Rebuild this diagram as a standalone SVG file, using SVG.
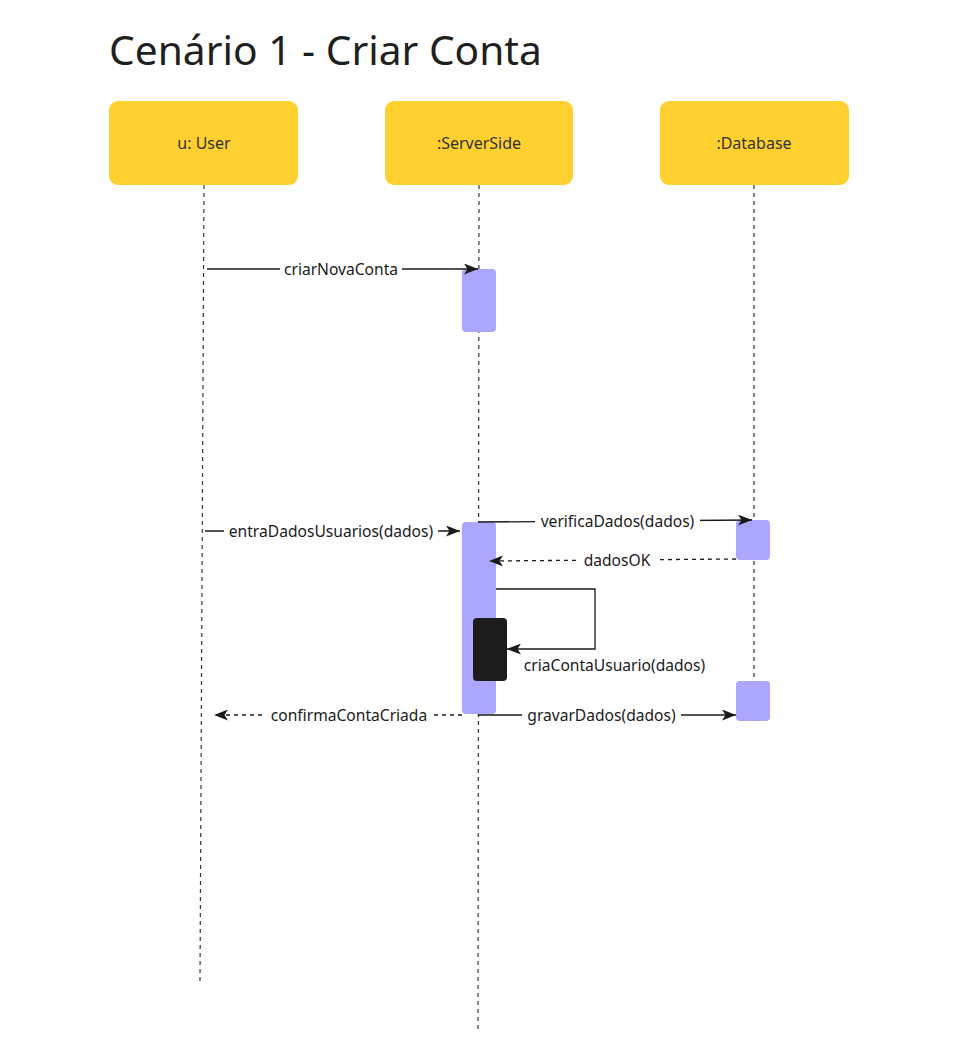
<svg xmlns="http://www.w3.org/2000/svg" width="956" height="1045" viewBox="0 0 956 1045">
<style>
.node{fill:#ffd02f}
.nl{font-family:"Noto Sans","Open Sans",sans-serif;font-size:16px;fill:#333;text-anchor:middle}
.life{stroke:#333;stroke-width:1.2;stroke-dasharray:4 4;fill:none}
.act{fill:#aba6ff}
.msg{stroke:#1a1a1a;stroke-width:1.3;fill:none}
.dash{stroke-dasharray:4 4}
.ml{font-family:"Noto Sans","Open Sans",sans-serif;font-size:15.6px;fill:#1a1a1a;text-anchor:middle}
.bg{fill:#fff}
</style>
<defs>
<marker id="ah" viewBox="0 0 14 11" refX="14" refY="5.5" markerWidth="14" markerHeight="11" markerUnits="userSpaceOnUse" orient="auto">
<path d="M0,0 L14,5.5 L0,11 L3.5,5.5 Z" fill="#1a1a1a"/>
</marker>
</defs>
<rect width="956" height="1045" fill="#fff"/>
<text x="109" y="65" font-family="Noto Sans, Open Sans, sans-serif" font-size="40.7" fill="#1f1f1f">Cenário 1 - Criar Conta</text>
<g id="lifelines">
<line class="life" x1="204" y1="185" x2="200" y2="982"/>
<line class="life" x1="479" y1="185" x2="478" y2="1030"/>
<line class="life" x1="754" y1="185" x2="754" y2="681"/>
</g>
<g id="user"><rect class="node" x="109" y="101" width="189" height="84" rx="9"/><text class="nl" x="204" y="149">u: User</text></g>
<g id="server"><rect class="node" x="385" y="101" width="188" height="84" rx="9"/><text class="nl" x="479" y="149">:ServerSide</text></g>
<g id="database"><rect class="node" x="660" y="101" width="189" height="84" rx="9"/><text class="nl" x="754" y="149">:Database</text></g>
<g id="activations">
<rect class="act" x="462" y="269" width="34" height="63" rx="4"/>
<rect class="act" x="462" y="522" width="34" height="192" rx="4"/>
<rect x="473" y="618" width="34" height="63" rx="4" fill="#1c1c1c"/>
<rect class="act" x="736" y="520" width="34" height="40" rx="4"/>
<rect class="act" x="736" y="681" width="34" height="40" rx="4"/>
</g>
<g id="connectors">
<line class="msg" x1="207" y1="269" x2="478" y2="269" marker-end="url(#ah)"/>
<rect class="bg" x="280" y="259" width="122" height="20"/>
<text class="ml" x="341" y="274.5">criarNovaConta</text>

<line class="msg" x1="205" y1="531" x2="460" y2="531" marker-end="url(#ah)"/>
<rect class="bg" x="224" y="521" width="214" height="20"/>
<text class="ml" x="331" y="536.5">entraDadosUsuarios(dados)</text>

<line class="msg" x1="478" y1="522" x2="752" y2="520" marker-end="url(#ah)"/>
<rect class="bg" x="535" y="510" width="165" height="20"/>
<text class="ml" x="617.5" y="526.5">verificaDados(dados)</text>

<line class="msg dash" x1="736" y1="559" x2="489" y2="561" marker-end="url(#ah)"/>
<rect class="bg" x="578" y="550" width="78" height="20"/>
<text class="ml" x="617" y="565.5">dadosOK</text>

<polyline class="msg" points="496,589 595,589 595,649 507,649" marker-end="url(#ah)"/>
<text class="ml" x="614.5" y="670.5">criaContaUsuario(dados)</text>

<line class="msg" x1="478" y1="715" x2="736" y2="715" marker-end="url(#ah)"/>
<rect class="bg" x="522" y="705" width="159" height="20"/>
<text class="ml" x="601.5" y="720.5">gravarDados(dados)</text>

<line class="msg dash" x1="462" y1="715" x2="214" y2="715" marker-end="url(#ah)"/>
<rect class="bg" x="265" y="705" width="168" height="20"/>
<text class="ml" x="349" y="720.5">confirmaContaCriada</text>
</g>
</svg>
